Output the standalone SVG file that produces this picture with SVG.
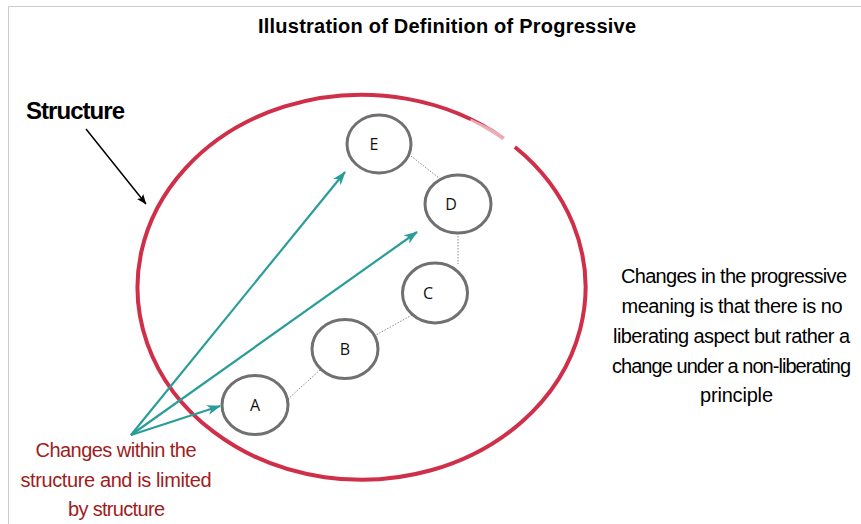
<svg xmlns="http://www.w3.org/2000/svg" width="861" height="524" viewBox="0 0 861 524">
<style>
.frame{stroke:#cccccc;stroke-width:1;fill:none}
.ring{fill:none;stroke:#cf2f48;stroke-width:4}
.fade{fill:none;stroke:#ffffff;stroke-width:5;opacity:0.6}
.node ellipse{fill:#ffffff;stroke:#6e716f;stroke-width:3}
.node text{font-family:"Open Sans","DejaVu Sans",sans-serif;font-size:16px;fill:#111;text-anchor:middle}
.dot{stroke:#8a8a8a;stroke-width:1;stroke-dasharray:1.5 1.5;fill:none}
.teal{stroke:#2a9d98;stroke-width:2.2;fill:none;marker-end:url(#tealHead)}
.blk{stroke:#000;stroke-width:1.5;fill:none;marker-end:url(#blackHead)}
.t{font-family:"Liberation Sans",Arial,sans-serif}
.title{font-size:20px;font-weight:bold;fill:#000;text-anchor:middle}
.struct{font-size:24px;font-weight:bold;fill:#000}
.note{font-size:20px;fill:#000;text-anchor:middle}
.red{font-size:20px;fill:#a01c1c;text-anchor:middle}
</style>
<defs>
<marker id="tealHead" viewBox="0 0 14 10" refX="13" refY="5" markerWidth="14" markerHeight="10" markerUnits="userSpaceOnUse" orient="auto">
<path d="M0,0 L14,5 L0,10 L4,5 z" fill="#2a9d98"/>
</marker>
<marker id="blackHead" viewBox="0 0 10 8" refX="9.5" refY="4" markerWidth="10" markerHeight="8" markerUnits="userSpaceOnUse" orient="auto">
<path d="M0,0 L10,4 L0,8 L2,4 z" fill="#000"/>
</marker>
</defs>
<rect width="861" height="524" fill="#ffffff"/>
<path class="frame" d="M8.5,524 L8.5,6.5 L861,6.5"/>
<text class="t title" x="447" y="33" textLength="378">Illustration of Definition of Progressive</text>
<g id="structure">
<path class="ring" d="M514.9,147 A224,192.5 0 1 1 503.5,138.4"/>
<path class="fade" d="M470,121 A224,192.5 0 0 1 503.5,138.4"/>
<text class="t struct" x="26" y="119" textLength="99">Structure</text>
</g>
<g id="connectors">
<line class="dot" x1="411" y1="156" x2="439" y2="178"/>
<line class="dot" x1="458" y1="233" x2="458" y2="264"/>
<line class="dot" x1="412" y1="315" x2="376" y2="335"/>
<line class="dot" x1="320" y1="370" x2="288" y2="399"/>
<line class="teal" x1="131" y1="435" x2="345" y2="172"/>
<line class="teal" x1="131" y1="435" x2="417" y2="232"/>
<line class="teal" x1="131" y1="435" x2="220" y2="406"/>
<line class="blk" x1="86" y1="129" x2="146" y2="204"/>
</g>
<g id="node-E" class="node"><ellipse cx="379" cy="144" rx="32" ry="29"/><text x="374" y="149.5">E</text></g>
<g id="node-D" class="node"><ellipse cx="458" cy="204" rx="33" ry="29"/><text x="451" y="209.5">D</text></g>
<g id="node-C" class="node"><ellipse cx="435" cy="293" rx="32.5" ry="30"/><text x="428" y="298.5">C</text></g>
<g id="node-B" class="node"><ellipse cx="345" cy="349" rx="33" ry="29.5"/><text x="345" y="354.5">B</text></g>
<g id="node-A" class="node"><ellipse cx="255" cy="405" rx="33" ry="29.5"/><text x="255" y="410.5">A</text></g>
<g id="note-right">
<text class="t note" x="734" y="283" textLength="226">Changes in the progressive</text>
<text class="t note" x="732" y="313" textLength="221">meaning is that there is no</text>
<text class="t note" x="731.5" y="343" textLength="237">liberating aspect but rather a</text>
<text class="t note" x="731.5" y="373" textLength="239">change under a non-liberating</text>
<text class="t note" x="736.5" y="402" textLength="73">principle</text>
</g>
<g id="note-left">
<text class="t red" x="116" y="457" textLength="161">Changes within the</text>
<text class="t red" x="116" y="487" textLength="191">structure and is limited</text>
<text class="t red" x="116.5" y="516" textLength="97">by structure</text>
</g>
</svg>
